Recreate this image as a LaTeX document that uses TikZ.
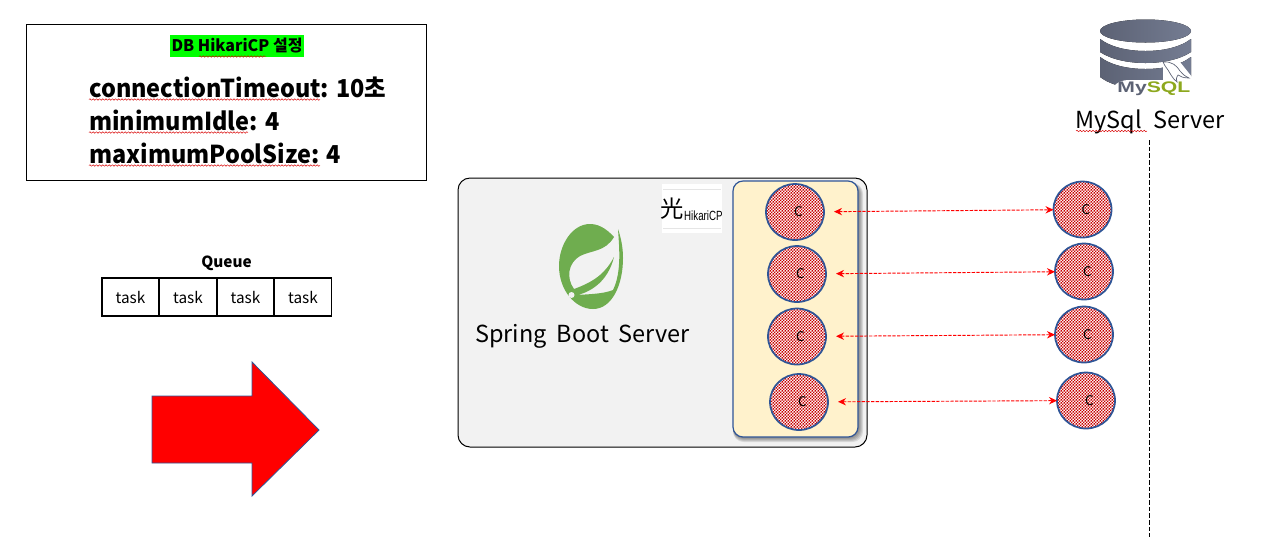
\documentclass[tikz,border=0pt]{standalone}
\usepackage{fontspec}
\setmainfont{Noto Sans CJK KR}
\newfontfamily\cjksc{Noto Sans CJK SC}
\newfontfamily\arialf{Liberation Sans}
\usetikzlibrary{shapes.geometric,patterns,decorations.pathmorphing,arrows.meta,positioning}
\pgfdeclarepatternformonly{checkerdots}{\pgfqpoint{0pt}{0pt}}{\pgfqpoint{2.3pt}{2.3pt}}{\pgfqpoint{2.25pt}{2.25pt}}{%
  \pgfpathrectangle{\pgfqpoint{0pt}{0pt}}{\pgfqpoint{1pt}{1pt}}%
  \pgfpathrectangle{\pgfqpoint{1.125pt}{1.125pt}}{\pgfqpoint{1pt}{1pt}}%
  \pgfusepath{fill}}
\definecolor{poolblue}{HTML}{2F5597}
\definecolor{poolfill}{HTML}{FFF2CC}
\definecolor{springgreen}{HTML}{6FAD4F}
\definecolor{dbdark}{HTML}{5C6274}
\definecolor{dblight}{HTML}{747C92}
\definecolor{sqlgreen}{HTML}{8DA81E}
\tikzset{
  conn/.style={shape=ellipse,draw=poolblue,line width=1.3pt,inner sep=0pt,outer sep=0pt,
    minimum width=43.5pt,minimum height=42pt,preaction={fill=white},
    pattern=checkerdots,pattern color=red!78!black,font=\fontsize{10pt}{11pt}\selectfont},
  link/.style={{Stealth[length=6pt,width=5.5pt]}-{Stealth[length=6pt,width=5.5pt]},red,
    dash pattern=on 2.5pt off 1pt,line width=0.7pt,shorten <=7.5pt},
  cell/.style={draw=black,line width=1.2pt,minimum width=43pt,minimum height=28.5pt,inner sep=0pt,
    font=\fontsize{11.5pt}{13pt}\selectfont},
  squig/.style={red!85!black,line width=0.35pt,decorate,decoration={snake,amplitude=0.55pt,segment length=2.4pt}},
  setting/.style={anchor=base west,inner sep=0pt,font=\fontsize{18.5pt}{22pt}\selectfont\bfseries,xscale=0.95},
  bigtext/.style={inner sep=0pt,font=\fontsize{17.6pt}{22pt}\selectfont},
}
\newcommand{\cc}{\hspace*{5pt}C}
\begin{document}
\begin{tikzpicture}[x=0.75pt,y=-0.75pt]
\useasboundingbox (0,0) rectangle (1273,537);
\fill[white] (0,0) rectangle (1273,537);

% settings box
\node[draw=black,line width=0.75pt,minimum width=300pt,minimum height=117pt,inner sep=0pt] (settings) at (226.5,102) {};
\node[fill=green,inner sep=0pt,minimum width=100.5pt,minimum height=16.5pt,font=\fontsize{12pt}{13pt}\selectfont\bfseries] (title) at (237,46) {DB HikariCP 설정};
\node[setting] (s1) at (89,97) {connectionTimeout: 10초};
\node[setting] (s2) at (89,130) {minimumIdle: 4};
\node[setting] (s3) at (89,163) {maximumPoolSize: 4};
\draw[squig] (199,56.5) -- (266,56.5);
\draw[squig] (89,99.5) -- (320,99.5);
\draw[squig] (89,132.5) -- (248,132.5);
\draw[squig] (89,165.5) -- (320,165.5);

% queue
\node[font=\fontsize{11.5pt}{13pt}\selectfont\bfseries,inner sep=0pt] (queue) at (226.5,263) {Queue};
\node[cell] (t1) at (130.5,297) {task};
\node[cell] (t2) at (188,297) {task};
\node[cell] (t3) at (245.5,297) {task};
\node[cell] (t4) at (303,297) {task};

% big arrow
\draw[fill=red,draw=poolblue,line width=0.6pt] (152,396) -- (252,396) -- (252,362) -- (319,430) -- (252,496) -- (252,463) -- (152,463) -- cycle;

% spring boot box
\node[draw=black,fill=black!5,rounded corners=9pt,line width=0.75pt,minimum width=306.75pt,minimum height=201.75pt,inner sep=0pt] (spring) at (662.5,312.5) {};
\node[fill=white,minimum width=45pt,minimum height=37pt,inner sep=0pt] (hikari) at (692,208.5) {};
\draw[black!10,line width=0.5pt] (663,189.5) -- (721,189.5) (663,228) -- (721,228);
\node[inner sep=0pt,font=\fontsize{17.5pt}{18pt}\selectfont\cjksc] (hikanji) at (672.5,208.5) {光};
\node[inner sep=0pt,anchor=west,font=\fontsize{10pt}{11pt}\selectfont\arialf,xscale=0.73] (hikname) at (684,216) {HikariCP};

% spring leaf
\fill[springgreen] (614,237) .. controls (605,227) and (597,224) .. (590,224)
  .. controls (572,224) and (559,245) .. (559,266)
  .. controls (559,290) and (575,309) .. (593,309)
  .. controls (612,309) and (623,285) .. (623,258)
  .. controls (623,245) and (620,235) .. (618,229)
  .. controls (619,245) and (622,272) .. (613,290)
  .. controls (603,294) and (590,294) .. (578,295)
  .. controls (592,291) and (608,281) .. (614,257)
  .. controls (606,272) and (596,281) .. (574,289)
  .. controls (566,278) and (568,263) .. (580,256)
  .. controls (592,250) and (605,252) .. (614,237) -- cycle;
\fill[black!5] (571.5,295) circle (3);
\node[bigtext,anchor=base west] (springlabel) at (475,342) {\spaceskip=0.42em Spring Boot Server};

% pool
\foreach \d in {1,2,3,4,5}
  \fill[black,opacity=.1,rounded corners=8pt] (733,183) rectangle (858+\d,437+\d);
\node[draw=poolblue,fill=poolfill,rounded corners=7.5pt,line width=0.9pt,minimum width=93.75pt,minimum height=192pt,inner sep=0pt] (pool) at (795.5,309) {};
\node[conn] (p1) at (795,212) {\cc};
\node[conn] (p2) at (797,274) {\cc};
\node[conn] (p3) at (797,336.5) {\cc};
\node[conn] (p4) at (799,402) {\cc};

% database connections
\node[conn] (d1) at (1082.5,209.5) {\cc};
\node[conn] (d2) at (1084,271.5) {\cc};
\node[conn] (d3) at (1084,334.5) {\cc};
\node[conn] (d4) at (1086,400.5) {\cc};
\draw[link] (p1) -- (d1);
\draw[link] (p2) -- (d2);
\draw[link] (p3) -- (d3);
\draw[link] (p4) -- (d4);

% mysql icon
\fill[left color=dbdark,right color=dblight] (1100,77) -- (1100,57)
  .. controls (1112,66) and (1130,69) .. (1145.5,69) .. controls (1161,69) and (1179,66) .. (1191,57) -- (1191,77)
  .. controls (1179,86) and (1161,89) .. (1145.5,89) .. controls (1130,89) and (1112,86) .. (1100,77) -- cycle;
\fill[left color=dbdark,right color=dblight] (1100,39)
  .. controls (1112,48) and (1130,51) .. (1145.5,51) .. controls (1161,51) and (1179,48) .. (1191,39) -- (1191,52)
  .. controls (1179,60) and (1161,63) .. (1145.5,63) .. controls (1130,63) and (1112,60) .. (1100,52) -- cycle;
\fill[left color=dbdark,right color=dblight] (1145.5,31) ellipse (45.5 and 11.5);
\fill[white] (1113,97) -- (1113,88) .. controls (1116,82) and (1122,80) .. (1130,80) -- (1163,80) -- (1163,62) -- (1180,62) -- (1196,82) -- (1196,97) -- cycle;
\draw[dbdark,line width=0.5pt,fill=white] (1163,62) .. controls (1172,61) and (1177,66) .. (1180,71)
  .. controls (1182,74) and (1185,76) .. (1189,78) .. controls (1184,78) and (1181,77) .. (1178,75)
  .. controls (1176,78) and (1176,80) .. (1177,82) .. controls (1172,78) and (1170,73) .. (1168,70)
  .. controls (1166,67) and (1164,65) .. (1163,62) -- cycle;
\node[inner sep=0pt,anchor=base west,font=\fontsize{11.5pt}{14pt}\selectfont\bfseries\arialf,xscale=1.38] (mysqlmark) at (1117,92) {\textcolor{dbdark}{My}\textcolor{sqlgreen}{SQL}};

% server label and lifeline
\node[bigtext,anchor=base west] (mysqllabel) at (1075,128) {\spaceskip=0.5em MySql Server};
\draw[squig] (1076,131) -- (1147,131);
\coordinate (lifetop) at (1149,140);
\coordinate (lifeend) at (1149,537);
\draw[black,dash pattern=on 3.5pt off 1.5pt,line width=0.6pt] (lifetop) -- (lifeend);
\end{tikzpicture}
\end{document}
